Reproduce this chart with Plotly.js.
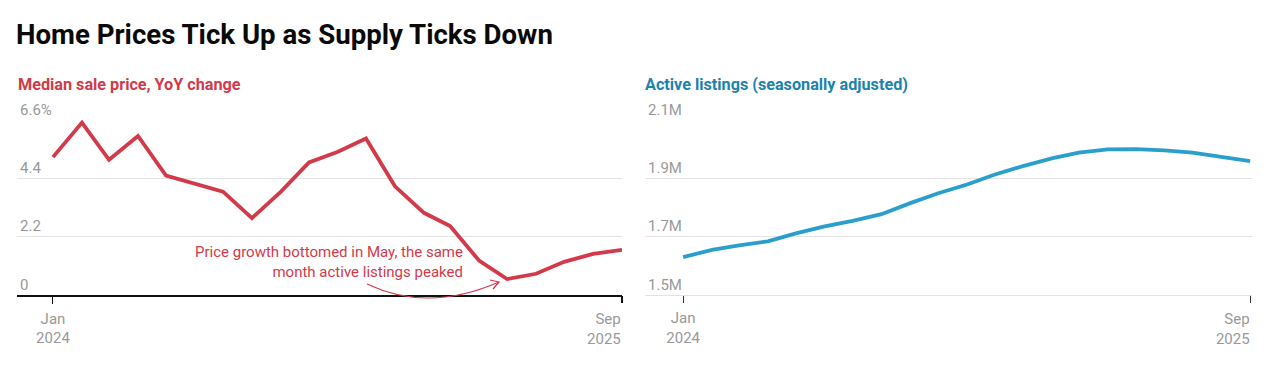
<!DOCTYPE html>
<html>
<head>
<meta charset="utf-8">
<script src="https://cdn.plot.ly/plotly-3.0.1.min.js"></script>
<style>html,body{margin:0;padding:0;background:#fff;}#chart{width:1276px;height:372px;}</style>
</head>
<body>
<div id="chart"></div>
<script>
// ---- data ----
const months = ['2024-01-01','2024-02-01','2024-03-01','2024-04-01','2024-05-01','2024-06-01','2024-07-01','2024-08-01','2024-09-01','2024-10-01','2024-11-01','2024-12-01','2025-01-01','2025-02-01','2025-03-01','2025-04-01','2025-05-01','2025-06-01','2025-07-01','2025-08-01','2025-09-01'];
const priceYoY = [5.2, 6.5, 5.1, 6.0, 4.5, 4.2, 3.9, 2.9, 3.9, 5.0, 5.4, 5.9, 4.1, 3.1, 2.6, 1.3, 0.6, 0.8, 1.25, 1.55, 1.7];
const activeListings = [1630000, 1655000, 1670000, 1684000, 1711000, 1735000, 1754000, 1777000, 1815000, 1849000, 1879000, 1913000, 1943000, 1969000, 1988000, 1999000, 2000000, 1996000, 1988000, 1972000, 1959000];
const priceTickVals = [0, 2.2, 4.4, 6.6];
const priceTickText = ['0', '2.2', '4.4', '6.6%'];
const listTickVals = [1500000, 1700000, 1900000, 2100000];
const listTickText = ['1.5M', '1.7M', '1.9M', '2.1M'];
const firstTick = ['2024-01-01'], firstTickText = ['Jan<br>2024'];
const lastTick = ['2025-09-01'], lastTickText = ['Sep<br>2025'];

const W = 1276, H = 372;
const px = v => v / W, py = v => 1 - v / H;
const RED = '#d33a49', TEAL = '#2a9fcb', TEAL_T = '#1a84ab';
const FONT = 'Roboto, sans-serif';
const tickFont = {family: FONT, size: 15, color: '#999999'};

const traces = [
  {x: months, y: priceYoY, xaxis: 'x', yaxis: 'y', mode: 'lines', line: {color: RED, width: 3.8}, hoverinfo: 'skip'},
  {x: months, y: priceYoY, xaxis: 'x3', yaxis: 'y', mode: 'lines', line: {color: 'rgba(0,0,0,0)', width: 0}, hoverinfo: 'skip'},
  {x: months, y: activeListings, xaxis: 'x2', yaxis: 'y2', mode: 'lines', line: {color: TEAL, width: 3.8}, hoverinfo: 'skip'},
  {x: months, y: activeListings, xaxis: 'x4', yaxis: 'y2', mode: 'lines', line: {color: 'rgba(0,0,0,0)', width: 0}, hoverinfo: 'skip'}
];

const yDom = [1 - 295 / H, 1 - 120 / H];
const leftDom = [px(17), px(622)], rightDom = [px(645), px(1252)];
const leftRange = ['2023-11-23 12:00', '2025-09-01'];
const rightRange = ['2023-11-21', '2025-09-03'];

const baseX = {
  type: 'date', showgrid: false, zeroline: false, ticks: 'outside', ticklen: 7, tickwidth: 1,
  tickfont: tickFont, fixedrange: true, anchor: 'y'
};

const layout = {
  width: W, height: H, margin: {l: 0, r: 0, t: 0, b: 0},
  paper_bgcolor: '#fff', plot_bgcolor: '#fff', showlegend: false,
  font: {family: FONT},
  title: {text: '<b>Home Prices Tick Up as Supply Ticks Down</b>', x: px(16), xanchor: 'left', xref: 'paper',
          y: py(34), yanchor: 'middle', yref: 'paper', font: {family: FONT, size: 27.6, color: '#0a0a0a'}},
  xaxis: Object.assign({}, baseX, {domain: leftDom, range: leftRange, tickvals: firstTick, ticktext: firstTickText,
          showline: true, linecolor: '#111', linewidth: 1.5, tickcolor: '#111', ticklabelstandoff: 2}),
  xaxis3: Object.assign({}, baseX, {domain: leftDom, range: leftRange, overlaying: 'x', tickvals: lastTick, ticktext: lastTickText,
          ticklabelposition: 'outside left', ticklabelstandoff: 10, showline: false, tickcolor: '#111', tickwidth: 2.5}),
  yaxis: {domain: yDom, range: [0, 6.6], tickvals: priceTickVals, ticktext: priceTickText,
          ticklabelposition: 'inside top', ticklabeloverflow: 'allow', showgrid: true, gridcolor: '#e3e3e3', gridwidth: 1,
          zeroline: false, showline: false, ticks: '', tickfont: tickFont, anchor: 'x', fixedrange: true},
  xaxis2: Object.assign({}, baseX, {domain: rightDom, range: rightRange, anchor: 'y2', tickvals: firstTick, ticktext: firstTickText,
          showline: true, linecolor: '#e3e3e3', linewidth: 1, tickcolor: '#333', ticklabelstandoff: 2}),
  xaxis4: Object.assign({}, baseX, {domain: rightDom, range: rightRange, anchor: 'y2', overlaying: 'x2', tickvals: lastTick, ticktext: lastTickText,
          ticklabelposition: 'outside left', ticklabelstandoff: 10, showline: false, tickcolor: '#333'}),
  yaxis2: {domain: yDom, range: [1500000, 2100000], tickvals: listTickVals, ticktext: listTickText,
          ticklabelposition: 'inside top', ticklabeloverflow: 'allow', showgrid: true, gridcolor: '#e3e3e3', gridwidth: 1,
          zeroline: false, showline: false, ticks: '', tickfont: tickFont, anchor: 'x2', fixedrange: true},
  annotations: [
    {text: '<b>Median sale price, YoY change</b>', xref: 'paper', yref: 'paper', x: px(16), y: py(84), xanchor: 'left', yanchor: 'middle',
     showarrow: false, font: {family: FONT, size: 16.2, color: RED}},
    {text: '<b>Active listings (seasonally adjusted)</b>', xref: 'paper', yref: 'paper', x: px(643), y: py(84), xanchor: 'left', yanchor: 'middle',
     showarrow: false, font: {family: FONT, size: 16.2, color: TEAL_T}},
    {text: 'Price growth bottomed in May, the same<br>month active listings peaked', xref: 'paper', yref: 'paper', x: px(465), y: py(262),
     xanchor: 'right', yanchor: 'middle', align: 'right', showarrow: false, font: {family: FONT, size: 15, color: RED}}
  ],
  shapes: [
    {type: 'path', xref: 'paper', yref: 'paper',
     path: `M ${px(367)},${py(284)} Q ${px(428)},${py(313)} ${px(499)},${py(282)}`,
     line: {color: RED, width: 1.2}},
    {type: 'path', xref: 'paper', yref: 'paper',
     path: `M ${px(490)},${py(280)} L ${px(499)},${py(282)} L ${px(493)},${py(289)}`,
     line: {color: RED, width: 1.2}}
  ]
};

Plotly.newPlot('chart', traces, layout, {displayModeBar: false, staticPlot: true});
</script>
</body>
</html>
